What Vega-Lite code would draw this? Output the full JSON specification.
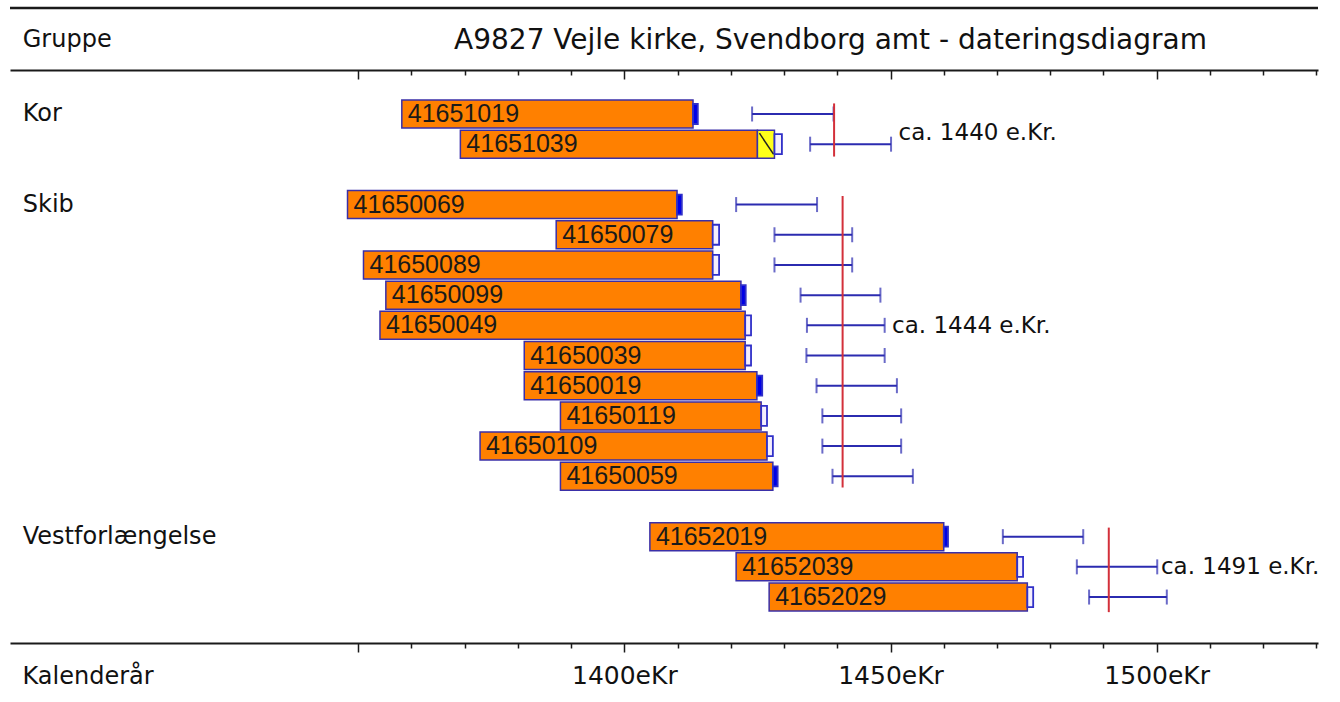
{
  "$schema": "https://vega.github.io/schema/vega-lite/v6.json",
  "width": 1308,
  "height": 573,
  "autosize": {"type": "none"},
  "padding": {"left": 10, "top": 70, "right": 22, "bottom": 59},
  "background": "white",
  "config": {"view": {"stroke": null}, "font": "DejaVu Sans"},
  "datasets": {
    "samples": [
      {"id": "41651019", "group": "Kor", "row": 0, "start": 1358.2, "end": 1412.9, "mStart": 1412.9, "mEnd": 1413.8, "marker": "filled", "errLo": 1424.0, "errHi": 1439.3},
      {"id": "41651039", "group": "Kor", "row": 1, "start": 1369.2, "end": 1425.0, "hatchStart": 1425.0, "hatchEnd": 1428.2, "mStart": 1428.2, "mEnd": 1429.6, "marker": "open", "errLo": 1434.9, "errHi": 1450.1},
      {"id": "41650069", "group": "Skib", "row": 3, "start": 1348.0, "end": 1409.9, "mStart": 1409.9, "mEnd": 1410.8, "marker": "filled", "errLo": 1421.0, "errHi": 1436.2},
      {"id": "41650079", "group": "Skib", "row": 4, "start": 1387.2, "end": 1416.6, "mStart": 1416.6, "mEnd": 1417.8, "marker": "open", "errLo": 1428.2, "errHi": 1442.8},
      {"id": "41650089", "group": "Skib", "row": 5, "start": 1351.0, "end": 1416.6, "mStart": 1416.6, "mEnd": 1417.8, "marker": "open", "errLo": 1428.2, "errHi": 1442.8},
      {"id": "41650099", "group": "Skib", "row": 6, "start": 1355.2, "end": 1421.9, "mStart": 1421.9, "mEnd": 1422.8, "marker": "filled", "errLo": 1433.1, "errHi": 1448.1},
      {"id": "41650049", "group": "Skib", "row": 7, "start": 1354.1, "end": 1422.7, "mStart": 1422.7, "mEnd": 1423.8, "marker": "open", "errLo": 1434.3, "errHi": 1448.9},
      {"id": "41650039", "group": "Skib", "row": 8, "start": 1381.2, "end": 1422.7, "mStart": 1422.7, "mEnd": 1423.8, "marker": "open", "errLo": 1434.2, "errHi": 1448.9},
      {"id": "41650019", "group": "Skib", "row": 9, "start": 1381.2, "end": 1424.9, "mStart": 1424.9, "mEnd": 1425.9, "marker": "filled", "errLo": 1436.1, "errHi": 1451.2},
      {"id": "41650119", "group": "Skib", "row": 10, "start": 1388.0, "end": 1425.7, "mStart": 1425.7, "mEnd": 1426.8, "marker": "open", "errLo": 1437.2, "errHi": 1452.0},
      {"id": "41650109", "group": "Skib", "row": 11, "start": 1372.9, "end": 1426.8, "mStart": 1426.8, "mEnd": 1427.9, "marker": "open", "errLo": 1437.2, "errHi": 1452.0},
      {"id": "41650059", "group": "Skib", "row": 12, "start": 1388.0, "end": 1427.9, "mStart": 1427.9, "mEnd": 1428.8, "marker": "filled", "errLo": 1439.1, "errHi": 1454.2},
      {"id": "41652019", "group": "Vestforlængelse", "row": 14, "start": 1404.8, "end": 1460.0, "mStart": 1460.0, "mEnd": 1460.8, "marker": "filled", "errLo": 1471.1, "errHi": 1486.2},
      {"id": "41652039", "group": "Vestforlængelse", "row": 15, "start": 1421.0, "end": 1473.8, "mStart": 1473.8, "mEnd": 1474.9, "marker": "open", "errLo": 1485.0, "errHi": 1500.1},
      {"id": "41652029", "group": "Vestforlængelse", "row": 16, "start": 1427.2, "end": 1475.7, "mStart": 1475.7, "mEnd": 1476.8, "marker": "open", "errLo": 1487.3, "errHi": 1501.9}
    ],
    "groups": [
      {"group": "Kor", "first": 0, "top": -0.35, "bottom": 1.41, "dating": 1439.4, "label": "ca. 1440 e.Kr.", "labelRow": 0.63, "labelX": 1451.5},
      {"group": "Skib", "first": 3, "top": 2.72, "bottom": 12.37, "dating": 1441.0, "label": "ca. 1444 e.Kr.", "labelRow": 7.02, "labelX": 1450.3},
      {"group": "Vestforlængelse", "first": 14, "top": 13.7, "bottom": 16.5, "dating": 1491.0, "label": "ca. 1491 e.Kr.", "labelRow": 15, "labelX": 1500.8}
    ],
    "header": [
      {"text": "Gruppe"}
    ]
  },
  "resolve": {"axis": {"x": "independent"}},
  "layer": [
    {
      "data": {"name": "samples"},
      "mark": {"type": "bar", "height": 28, "fill": "#FF8000", "stroke": "#3a2fa8", "strokeWidth": 1.5},
      "encoding": {
        "x": {"field": "start", "type": "quantitative",
          "scale": {"domain": [1284.6, 1530.3], "nice": false, "zero": false, "padding": 0},
          "axis": {"orient": "bottom", "values": [1350,1360,1370,1380,1390,1400,1410,1420,1430,1440,1450,1460,1470,1480,1490,1500,1510,1520,1530],
            "grid": false, "domainColor": "#1a1a1a", "domainWidth": 2, "tickColor": "#1a1a1a", "tickWidth": 1.5,
            "tickSize": {"condition": {"test": "datum.value % 50 === 0", "value": 9}, "value": 5},
            "labelExpr": "datum.value >= 1400 && datum.value % 50 === 0 ? datum.value + 'eKr' : ''",
            "labelFont": "DejaVu Sans", "labelFontSize": 25, "labelColor": "#111", "labelBaseline": "middle", "labelPadding": 23,
            "labelOverlap": false, "labelFlush": false,
            "title": "Kalenderår", "titleFont": "DejaVu Sans", "titleFontSize": 24, "titleFontWeight": "normal", "titleColor": "#111",
            "titleAlign": "left", "titleAnchor": "start", "titleBaseline": "middle", "titleX": 12, "titleY": 33}},
        "x2": {"field": "end"},
        "y": {"field": "row", "type": "quantitative",
          "scale": {"domain": [-1.457, 17.522], "reverse": true, "nice": false, "zero": false, "padding": 0},
          "axis": null}
      }
    },
    {
      "data": {"name": "samples"},
      "transform": [{"filter": "isValid(datum.hatchStart)"}],
      "mark": {"type": "bar", "height": 28, "fill": "#ffff1a", "stroke": "#3a2fa8", "strokeWidth": 1.5},
      "encoding": {
        "x": {"field": "hatchStart", "type": "quantitative", "axis": null},
        "x2": {"field": "hatchEnd"},
        "y": {"field": "row", "type": "quantitative", "axis": null}
      }
    },
    {
      "data": {"name": "samples"},
      "transform": [{"filter": "isValid(datum.hatchStart)"}],
      "mark": {"type": "rule", "color": "#222", "strokeWidth": 1.5, "yOffset": -11, "y2Offset": 10, "xOffset": 2, "x2Offset": -1},
      "encoding": {
        "x": {"field": "hatchStart", "type": "quantitative", "axis": null},
        "x2": {"field": "hatchEnd"},
        "y": {"field": "row", "type": "quantitative", "axis": null},
        "y2": {"field": "row"}
      }
    },
    {
      "data": {"name": "samples"},
      "mark": {"type": "bar", "height": 20, "stroke": "#3030c8", "strokeWidth": 1.8},
      "encoding": {
        "x": {"field": "mStart", "type": "quantitative", "axis": null},
        "x2": {"field": "mEnd"},
        "y": {"field": "row", "type": "quantitative", "axis": null},
        "fill": {"field": "marker", "type": "nominal", "legend": null,
          "scale": {"domain": ["filled", "open"], "range": ["#0000e6", "#f4eefc"]}}
      }
    },
    {
      "data": {"name": "samples"},
      "mark": {"type": "text", "align": "left", "baseline": "middle", "dx": 6, "font": "Liberation Sans", "fontSize": 25, "color": "#1a1a1a"},
      "encoding": {
        "x": {"field": "start", "type": "quantitative", "axis": null},
        "y": {"field": "row", "type": "quantitative", "axis": null},
        "text": {"field": "id"}
      }
    },
    {
      "data": {"name": "samples"},
      "mark": {"type": "rule", "color": "#2b2bb0", "strokeWidth": 2},
      "encoding": {
        "x": {"field": "errLo", "type": "quantitative",
          "axis": {"orient": "top", "values": [1350,1360,1370,1380,1390,1400,1410,1420,1430,1440,1450,1460,1470,1480,1490,1500,1510,1520,1530],
            "grid": false, "labels": false, "domainColor": "#1a1a1a", "domainWidth": 2, "tickColor": "#1a1a1a", "tickWidth": 1.5,
            "tickSize": {"condition": {"test": "datum.value % 50 === 0", "value": -9}, "value": -5},
            "title": "A9827 Vejle kirke, Svendborg amt - dateringsdiagram", "titleFont": "DejaVu Sans", "titleFontSize": 28,
            "titleFontWeight": "normal", "titleColor": "#111", "titleAlign": "center", "titleBaseline": "middle", "titleX": 820, "titleY": -30}},
        "x2": {"field": "errHi"},
        "y": {"field": "row", "type": "quantitative", "axis": null}
      }
    },
    {
      "data": {"name": "samples"},
      "mark": {"type": "tick", "orient": "vertical", "size": 15, "thickness": 2, "color": "#2b2bb0"},
      "encoding": {
        "x": {"field": "errLo", "type": "quantitative", "axis": null},
        "y": {"field": "row", "type": "quantitative", "axis": null}
      }
    },
    {
      "data": {"name": "samples"},
      "mark": {"type": "tick", "orient": "vertical", "size": 15, "thickness": 2, "color": "#2b2bb0"},
      "encoding": {
        "x": {"field": "errHi", "type": "quantitative", "axis": null},
        "y": {"field": "row", "type": "quantitative", "axis": null}
      }
    },
    {
      "data": {"name": "groups"},
      "mark": {"type": "rule", "color": "#d3303a", "strokeWidth": 2},
      "encoding": {
        "x": {"field": "dating", "type": "quantitative", "axis": null},
        "y": {"field": "top", "type": "quantitative", "axis": null},
        "y2": {"field": "bottom"}
      }
    },
    {
      "data": {"name": "groups"},
      "mark": {"type": "text", "align": "left", "baseline": "middle", "font": "DejaVu Sans", "fontSize": 23, "color": "#111"},
      "encoding": {
        "x": {"field": "labelX", "type": "quantitative", "axis": null},
        "y": {"field": "labelRow", "type": "quantitative", "axis": null},
        "text": {"field": "label"}
      }
    },
    {
      "data": {"name": "groups"},
      "mark": {"type": "text", "align": "left", "baseline": "middle", "font": "DejaVu Sans", "fontSize": 24, "color": "#111"},
      "encoding": {
        "x": {"datum": 1287, "type": "quantitative", "axis": null},
        "y": {"field": "first", "type": "quantitative", "axis": null},
        "text": {"field": "group"}
      }
    },
    {
      "data": {"name": "header"},
      "mark": {"type": "text", "align": "left", "baseline": "middle", "font": "DejaVu Sans", "fontSize": 24, "color": "#111"},
      "encoding": {
        "x": {"datum": 1287, "type": "quantitative", "axis": null},
        "y": {"datum": -2.45, "type": "quantitative", "axis": null},
        "text": {"field": "text"}
      }
    },
    {
      "data": {"values": [{}]},
      "mark": {"type": "rule", "color": "#1a1a1a", "strokeWidth": 2.5},
      "encoding": {
        "y": {"datum": -3.511, "type": "quantitative", "axis": null}
      }
    }
  ]
}
